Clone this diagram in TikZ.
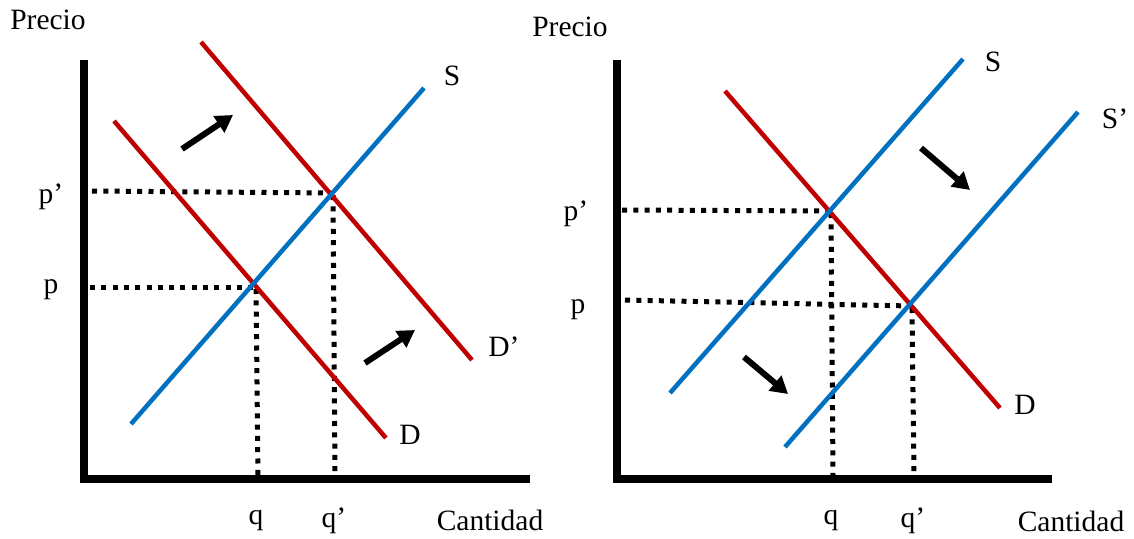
\documentclass[tikz,border=0pt]{standalone}
\usepackage{fontspec}
\setmainfont{Liberation Serif}
\usetikzlibrary{arrows.meta}
\definecolor{supply}{RGB}{0,112,192}
\definecolor{demand}{RGB}{192,0,0}
\tikzset{
  axis/.style={line width=7.5pt},
  supcurve/.style={supply, line width=4.5pt},
  demcurve/.style={demand, line width=4.5pt},
  guide/.style={line width=5pt, dash pattern=on 5pt off 6.3pt},
  shift arrow/.style={line width=6pt, -{Triangle[length=17pt,width=19pt]}},
  lbl/.style={font=\fontsize{29.5}{33}\selectfont, inner sep=0pt}
}
\begin{document}
\begin{tikzpicture}[x=1pt,y=-1pt]
\useasboundingbox (0,0) rectangle (1134,538);
% ---------- left panel ----------
\coordinate (La) at (84,60);
\coordinate (Lo) at (84,479);
\coordinate (Lx) at (530,479);
\draw[axis] (La) -- (84,482.75) -- (Lo) (80.25,479) -- (Lx);
\coordinate (S1a) at (131,424); \coordinate (S1b) at (424,88);
\coordinate (D1a) at (114,121); \coordinate (D1b) at (386,438);
\coordinate (D2a) at (201,42);  \coordinate (D2b) at (472,360);
\coordinate (E1) at (254,287); \coordinate (E2) at (331,193);
\draw[guide] (90,287) -- (E1);
\draw[guide] (92,191) -- (E2);
\draw[guide] (256,289) -- (258,476);
\draw[guide] (333,195) -- (335,476);
\draw[demcurve] (D1a) -- (D1b);
\draw[demcurve] (D2a) -- (D2b);
\draw[supcurve] (S1a) -- (S1b);
\coordinate (A1s) at (182,149); \coordinate (A1e) at (233,115);
\coordinate (A2s) at (365,363); \coordinate (A2e) at (415,330);
\draw[shift arrow] (A1s) -- (A1e);
\draw[shift arrow] (A2s) -- (A2e);
\node[lbl] (lP) at (48,20) {Precio};
\node[lbl] (lS) at (452,76) {S};
\node[lbl] (lDp) at (504,347) {D’};
\node[lbl] (lD) at (410,435) {D};
\node[lbl] (lpp) at (51,197) {p’};
\node[lbl] (lp) at (51,290) {p};
\node[lbl] (lq) at (256,521) {q};
\node[lbl] (lqp) at (334,521) {q’};
\node[lbl] (lC) at (490,520) {Cantidad};
% ---------- right panel ----------
\coordinate (Ra) at (617,60);
\coordinate (Ro) at (617,479);
\coordinate (Rx) at (1052,479);
\draw[axis] (Ra) -- (617,482.75) -- (Ro) (613.25,479) -- (Rx);
\coordinate (S2a) at (670,393); \coordinate (S2b) at (963,59);
\coordinate (S3a) at (785,447); \coordinate (S3b) at (1078,112);
\coordinate (D3a) at (725,91);  \coordinate (D3b) at (1000,408);
\coordinate (F1) at (830,211); \coordinate (F2) at (911,306);
\draw[guide] (622,210) -- (F1);
\draw[guide] (625,300) -- (F2);
\draw[guide] (831,213) -- (833,476);
\draw[guide] (912,308) -- (914,476);
\draw[demcurve] (D3a) -- (D3b);
\draw[supcurve] (S2a) -- (S2b);
\draw[supcurve] (S3a) -- (S3b);
\coordinate (B1s) at (921,148); \coordinate (B1e) at (970,190);
\coordinate (B2s) at (744,357); \coordinate (B2e) at (788,394);
\draw[shift arrow] (B1s) -- (B1e);
\draw[shift arrow] (B2s) -- (B2e);
\node[lbl] (rP) at (570,27) {Precio};
\node[lbl] (rS) at (993,62) {S};
\node[lbl] (rSp) at (1115,119) {S’};
\node[lbl] (rD) at (1025,405) {D};
\node[lbl] (rpp) at (576,214) {p’};
\node[lbl] (rp) at (578,310) {p};
\node[lbl] (rq) at (831,521) {q};
\node[lbl] (rqp) at (913,521) {q’};
\node[lbl] (rC) at (1071,521) {Cantidad};
\end{tikzpicture}
\end{document}
